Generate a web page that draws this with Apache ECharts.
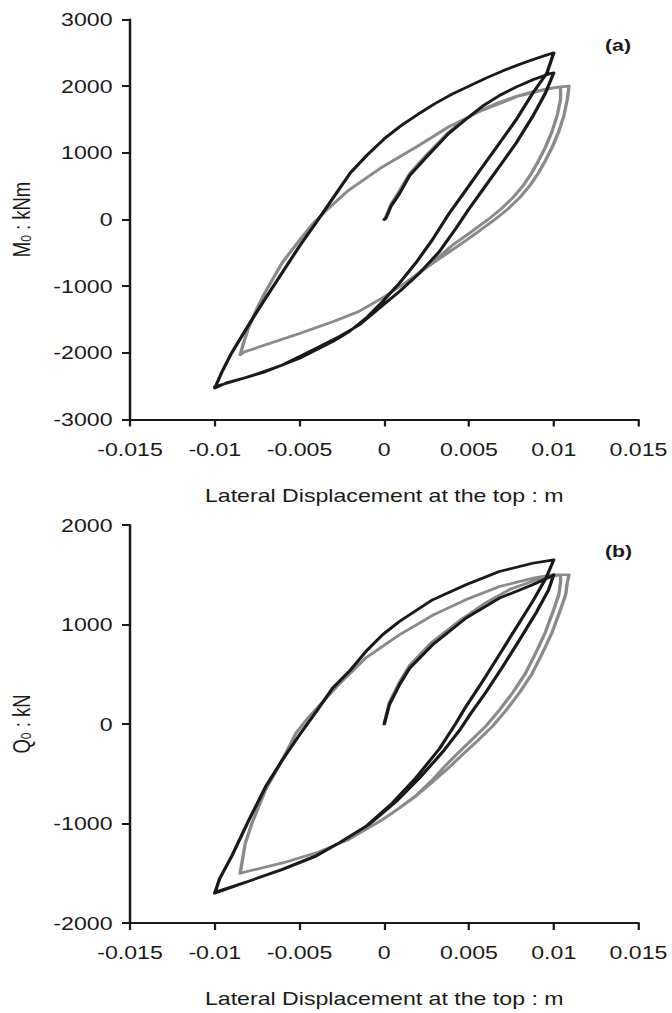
<!DOCTYPE html>
<html>
<head>
<meta charset="utf-8">
<script src="https://cdn.jsdelivr.net/npm/echarts@6/dist/echarts.min.js"></script>
<style>
html,body{margin:0;padding:0;background:#fff;overflow:hidden;}
/* the reference figure is horizontally stretched by 1.25 (text glyphs too) */
#chart{width:537.6px;height:1013px;transform:scaleX(1.25);transform-origin:0 0;}
</style>
</head>
<body>
<div id="chart"></div>
<script>
const xTicks = [-0.015, -0.01, -0.005, 0, 0.005, 0.01, 0.015];
const yTicksA = [-3000, -2000, -1000, 0, 1000, 2000, 3000];
const yTicksB = [-2000, -1000, 0, 1000, 2000];

// ---- Panel (a): M0 [kNm] vs lateral displacement [m] ----
const blackA = [
  [0,0],[0.0001,20],[0.0004,200],[0.0009,390],[0.0015,660],[0.0025,940],[0.0038,1290],[0.0048,1500],
  [0.0058,1700],[0.0068,1860],[0.0078,1990],[0.0088,2100],[0.0098,2190],[0.0100,2200],
  [0.0095,1892],[0.00875,1542],[0.00777,1142],[0.00679,792],[0.0058,442],[0.0050,160],[0.00423,-132],
  [0.00325,-482],[0.00207,-807],[0.00089,-1082],[-0.0003,-1332],[-0.00148,-1582],[-0.00266,-1757],
  [-0.00403,-1932],[-0.0060,-2182],[-0.0080,-2360],[-0.0093,-2450],[-0.0100,-2530],
  [-0.0096,-2300],[-0.0090,-2000],[-0.0080,-1580],[-0.0070,-1180],[-0.0060,-790],[-0.0050,-400],
  [-0.0040,-40],[-0.0030,330],[-0.0020,700],[-0.0010,970],[0,1210],[0.0010,1410],[0.0020,1580],
  [0.0030,1740],[0.0040,1880],[0.0050,2000],[0.0060,2120],[0.0070,2230],[0.0080,2330],[0.0090,2420],[0.0100,2500],
  [0.0096,2200],[0.00875,1892],[0.00777,1492],[0.00679,1142],[0.0058,792],[0.00482,442],[0.0038,80],
  [0.00285,-300],[0.00187,-650],[0.00089,-957],[-0.0001,-1232],[-0.00108,-1482],[-0.00207,-1682],
  [-0.00305,-1832],[-0.0050,-2082],[-0.0070,-2282],[-0.0090,-2435],[-0.0100,-2510]
];

const grayA = [
  [0,0],[0.0001,40],[0.0004,230],[0.0009,430],[0.0015,690],[0.0025,970],[0.0038,1310],[0.0048,1510],
  [0.0058,1650],[0.0068,1760],[0.0078,1850],[0.0088,1920],[0.0097,1965],[0.0104,1990],
  [0.0104,1800],[0.0102,1560],[0.0099,1320],[0.0095,1080],[0.0091,880],[0.0087,700],[0.0082,510],
  [0.0076,330],[0.0069,160],[0.0061,-5],[0.0051,-190],[0.0041,-370],[0.0029,-630],[0.0013,-940],[0,-1160],
  [-0.0015,-1380],[-0.0030,-1530],[-0.0050,-1710],[-0.0070,-1880],[-0.0083,-1990],[-0.0085,-2030],
  [-0.0083,-1850],[-0.0080,-1620],[-0.0075,-1330],[-0.0070,-1080],[-0.0060,-640],[-0.0050,-310],
  [-0.0042,-60],[-0.0034,140],[-0.0021,440],[-0.0001,790],[0.0019,1090],[0.0038,1390],[0.0058,1640],
  [0.0078,1840],[0.0097,1960],[0.0104,1990],[0.0109,2000],
  [0.0108,1800],[0.0106,1560],[0.0103,1320],[0.0099,1080],[0.0095,880],[0.0091,700],[0.0086,510],
  [0.0080,330],[0.0073,160],[0.0065,-5],[0.0055,-190],[0.0045,-370],[0.0029,-650],[0.0013,-940],[0,-1160],
  [-0.0015,-1380],[-0.0030,-1530],[-0.0050,-1710],[-0.0070,-1880],[-0.0083,-1990],[-0.0085,-2030]
];

// ---- Panel (b): Q0 [kN] vs lateral displacement [m] ----
const blackB = [
  [0,0],[0.0003,194],[0.0009,395],[0.0015,562],[0.00285,796],[0.00482,1064],[0.00679,1265],
  [0.00875,1399],[0.0098,1480],[0.0100,1500],
  [0.0097,1350],[0.0090,1130],[0.0080,850],[0.0070,580],[0.0060,320],[0.0050,80],[0.0045,-50],
  [0.0035,-270],[0.0021,-540],[0.0007,-780],[-0.0009,-1010],[-0.0025,-1180],[-0.0040,-1320],
  [-0.0060,-1460],[-0.0080,-1580],[-0.0100,-1700],
  [-0.0097,-1550],[-0.0090,-1330],[-0.0080,-970],[-0.0070,-630],[-0.0060,-358],[-0.0050,-110],
  [-0.0040,127],[-0.00305,361],[-0.00207,528],[-0.00108,729],[-0.0001,897],[0.00089,1030],
  [0.00285,1248],[0.00482,1399],[0.00679,1532],[0.00875,1616],[0.0100,1650],
  [0.00954,1466],[0.00875,1231],[0.00777,964],[0.00679,696],[0.0058,428],[0.0048,170],[0.0042,0],
  [0.00325,-250],[0.00187,-540],[0.00049,-793],[-0.00108,-1028],[-0.00266,-1195],[-0.00403,-1329],
  [-0.0060,-1463],[-0.0080,-1580],[-0.0100,-1690]
];

const grayB = [
  [0,0],[0.0003,215],[0.0009,420],[0.0015,590],[0.0028,820],[0.0045,1045],[0.0060,1220],
  [0.0075,1360],[0.0090,1450],[0.0104,1500],
  [0.0104,1420],[0.0103,1300],[0.0100,1150],[0.0095,920],[0.0089,700],[0.0083,500],[0.0076,320],
  [0.0068,140],[0.0060,-20],[0.0051,-170],[0.0043,-300],[0.0036,-420],[0.0028,-570],[0.0019,-715],
  [0.0009,-845],[-0.0001,-961],[-0.0021,-1161],
  [-0.0040,-1295],[-0.0060,-1396],[-0.0078,-1470],[-0.0085,-1500],
  [-0.0084,-1400],[-0.0082,-1200],[-0.0078,-994],[-0.0070,-660],[-0.0060,-358],[-0.0052,-90],
  [-0.0045,60],[-0.0027,395],[-0.0011,663],[0.0009,897],[0.0029,1097],[0.0048,1248],[0.0068,1382],
  [0.0088,1466],[0.0099,1500],[0.0109,1500],
  [0.0108,1420],[0.0107,1300],[0.0104,1150],[0.0099,920],[0.0093,700],[0.0087,500],[0.0080,320],
  [0.0072,140],[0.0064,-20],[0.0055,-170],[0.0046,-310],[0.0038,-440],[0.0028,-590],[0.0019,-720],
  [0.0009,-845],[-0.0001,-961],[-0.0021,-1161],
  [-0.0040,-1295],[-0.0060,-1396],[-0.0078,-1470],[-0.0085,-1500]
];

const FONT = '"Liberation Sans", Arial, sans-serif';
const INK = '#1a1a1a';
const GRAY = '#8a8a8a';
const FS = 18.5;

function xAxisCfg(gridIndex) {
  return {
    gridIndex, type: 'value', min: xTicks[0], max: xTicks[xTicks.length-1], interval: 0.005,
    name: 'Lateral Displacement at the top : m', nameLocation: 'middle', nameGap: 66,
    nameTextStyle: { fontFamily: FONT, fontSize: 18.5, color: INK },
    axisLine: { show: true, onZero: false, lineStyle: { color: INK, width: 2 } },
    axisTick: { show: true, inside: false, length: 7, lineStyle: { color: INK, width: 1.8 } },
    axisLabel: { fontFamily: FONT, fontSize: FS, color: INK, margin: 20, showMinLabel: true, showMaxLabel: true,
      formatter: v => { const t = xTicks.find(k => Math.abs(k - v) < 1e-9); return String(t === undefined ? v : t); } },
    splitLine: { show: false }
  };
}
function yAxisCfg(gridIndex, ticks, nm) {
  return {
    gridIndex, type: 'value', min: ticks[0], max: ticks[ticks.length-1], interval: 1000,
    name: nm, nameLocation: 'middle', nameGap: 77, nameRotate: 90,
    nameTextStyle: { fontFamily: FONT, fontSize: 18.5, color: INK,
      rich: { s: { fontFamily: FONT, fontSize: 12, color: INK, padding: [6,0,0,0] } } },
    axisLine: { show: true, onZero: false, lineStyle: { color: INK, width: 2 } },
    axisTick: { show: true, inside: false, length: 6.4, lineStyle: { color: INK, width: 2 } },
    axisLabel: { fontFamily: FONT, fontSize: FS, color: INK, margin: 14,
      formatter: v => { const t = ticks.find(k => Math.abs(k - v) < 1e-6); return String(t === undefined ? v : t); } },
    splitLine: { show: false }
  };
}
function lineSeries(data, color, xi, w) {
  return { type: 'line', data, xAxisIndex: xi, yAxisIndex: xi, showSymbol: false, symbol: 'none',
    smooth: false, lineStyle: { color, width: w, join: 'round', cap: 'round' }, silent: true, animation: false };
}

const chart = echarts.init(document.getElementById('chart'), null, { renderer: 'svg' });
chart.setOption({
  animation: false,
  backgroundColor: '#fff',
  grid: [
    { left: 104, right: 27.2, top: 19.5, height: 400 },
    { left: 104, right: 27.2, top: 525, height: 398 }
  ],
  xAxis: [xAxisCfg(0), xAxisCfg(1)],
  yAxis: [yAxisCfg(0, yTicksA, 'M{s|0} : kNm'), yAxisCfg(1, yTicksB, 'Q{s|0} : kN')],
  series: [
    lineSeries(grayA, GRAY, 0, 2.7),
    lineSeries(blackA, INK, 0, 2.7),
    lineSeries(grayB, GRAY, 1, 2.7),
    lineSeries(blackB, INK, 1, 2.7)
  ],
  graphic: [
    { type: 'text', left: 484, top: 37, style: { text: '(a)', font: 'bold 17px ' + FONT, fill: INK } },
    { type: 'text', left: 484, top: 543, style: { text: '(b)', font: 'bold 17px ' + FONT, fill: INK } }
  ]
});
</script>
</body>
</html>
